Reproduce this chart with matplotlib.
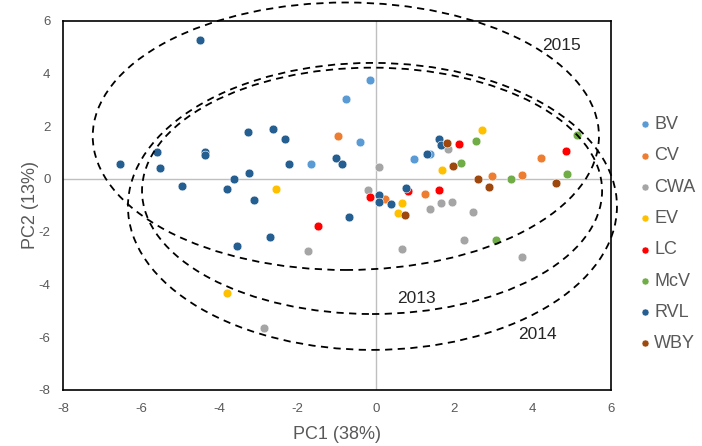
import matplotlib
matplotlib.use("Agg")
import matplotlib.pyplot as plt
from matplotlib.patches import Ellipse

plt.rcParams['font.family'] = ['Liberation Sans', 'DejaVu Sans']
plt.rcParams['axes.unicode_minus'] = False

# ---- data ----
groups = ["BV", "CV", "CWA", "EV", "LC", "McV", "RVL", "WBY"]
colors = ["#5B9BD5", "#ED7D31", "#A5A5A5", "#FFC000", "#FF0000", "#70AD47", "#255E91", "#9E480E"]

bv_x = [-0.16, -0.76, -0.40, -1.66, 0.96, 1.37]
bv_y = [3.76, 3.03, 1.42, 0.57, 0.76, 0.96]

cv_x = [-0.96, 0.22, 1.26, 2.97, 3.73, 4.21]
cv_y = [1.62, -0.77, -0.57, 0.13, 0.14, 0.78]

cwa_x = [0.08, -0.21, -1.73, -2.85, 0.66, 1.38, 1.65, 1.95, 2.49, 1.83, 2.24, 3.73]
cwa_y = [0.46, -0.42, -2.73, -5.66, -2.66, -1.12, -0.92, -0.88, -1.27, 1.13, -2.32, -2.94]

ev_x = [-2.56, -3.80, 2.72, 1.68, 0.66, 0.56]
ev_y = [-0.38, -4.31, 1.84, 0.33, -0.92, -1.30]

lc_x = [-0.16, -1.48, 0.82, 1.62, 2.13, 4.85]
lc_y = [-0.69, -1.79, -0.46, -0.41, 1.33, 1.07]

mcv_x = [2.55, 2.17, 3.44, 5.14, 4.88, 3.06]
mcv_y = [1.45, 0.60, -0.02, 1.66, 0.19, -2.32]

rvl_x = [-4.50, -3.27, -2.64, -2.32, -5.60, -4.38, -4.38, -6.55, -5.53, -2.22,
         -1.03, -0.87, -3.25, -3.64, -4.96, -3.81, -3.11, 0.09, 0.09, -0.70,
         -2.71, -3.54, 0.39, 0.78, 1.30, 1.62, 1.65]
rvl_y = [5.25, 1.78, 1.91, 1.51, 1.03, 1.04, 0.90, 0.57, 0.40, 0.57,
         0.80, 0.55, 0.22, -0.02, -0.25, -0.38, -0.80, -0.59, -0.89, -1.44,
         -2.21, -2.54, -0.96, -0.36, 0.93, 1.51, 1.28]

wby_x = [1.81, 1.98, 2.61, 2.90, 4.60, 0.75]
wby_y = [1.36, 0.51, -0.02, -0.29, -0.16, -1.36]

xs = [bv_x, cv_x, cwa_x, ev_x, lc_x, mcv_x, rvl_x, wby_x]
ys = [bv_y, cv_y, cwa_y, ev_y, lc_y, mcv_y, rvl_y, wby_y]

# confidence ellipses (year, centre x, centre y, width, height)
ell_years = ["2013", "2014", "2015"]
ell_cx = [-0.10, -0.09, -0.77]
ell_cy = [-0.45, -1.04, 1.62]
ell_w = [11.76, 12.50, 12.94]
ell_h = [9.34, 10.88, 10.14]
ell_label_x = [1.03, 4.12, 4.75]
ell_label_y = [-4.55, -5.88, 5.05]

x_ticks = [-8, -6, -4, -2, 0, 2, 4, 6]
y_ticks = [-8, -6, -4, -2, 0, 2, 4, 6]

# ---- figure ----
fig = plt.figure(figsize=(7.02, 4.46), dpi=100)
ax = fig.add_axes([63 / 702, 1 - 390 / 446, (610.7 - 63) / 702, (390 - 20.7) / 446])

ax.set_xlim(-8, 6)
ax.set_ylim(-8, 6)
ax.axhline(0, color="#BFBFBF", lw=1.0, zorder=1)
ax.axvline(0, color="#BFBFBF", lw=1.0, zorder=1)

for g, c, x, y in zip(groups, colors, xs, ys):
    ax.scatter(x, y, s=40, color=c, edgecolors="white", linewidths=0.4, label=g, zorder=3)

for yr, cx, cy, w, h, lx, ly in zip(ell_years, ell_cx, ell_cy, ell_w, ell_h, ell_label_x, ell_label_y):
    e = Ellipse((cx, cy), w, h, fill=False, ls=(0, (4, 3)), lw=1.3, color="black",
                clip_on=False, zorder=4)
    ax.add_patch(e)
    ax.text(lx, ly, yr, fontsize=12.5, color="#262626", ha="center", va="center", zorder=5)

ax.set_xticks(x_ticks)
ax.set_yticks(y_ticks)
ax.tick_params(length=0, labelsize=9.5, labelcolor="#595959", pad=9)
for s in ax.spines.values():
    s.set_color("black")
    s.set_linewidth(1.2)

ax.set_xlabel("PC1 (38%)", fontsize=13, color="#595959", labelpad=8)
ax.set_ylabel("PC2 (13%)", fontsize=13, color="#595959", labelpad=0)

leg = ax.legend(loc="upper left", bbox_to_anchor=(1.033, 0.761), frameon=False,
                fontsize=13, handletextpad=0.0, handlelength=1.0, labelspacing=0.79,
                markerscale=0.8, borderaxespad=0)
for t in leg.get_texts():
    t.set_color("#595959")

fig.savefig("out.png", dpi=100)
